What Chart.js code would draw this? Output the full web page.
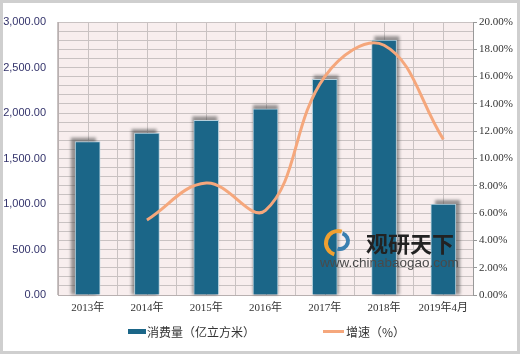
<!DOCTYPE html>
<html>
<head>
<meta charset="utf-8">
<script src="https://cdn.jsdelivr.net/npm/chart.js@4/dist/chart.umd.min.js"></script>
<style>
  html, body { margin: 0; padding: 0; background: #fff; }
  #wrap { width: 520px; height: 354px; }
</style>
</head>
<body>
<div id="wrap"><canvas id="chart" width="520" height="354"></canvas></div>
<script>
// 数据
const categories = ['2013年', '2014年', '2015年', '2016年', '2017年', '2018年', '2019年4月'];
const consumption = [1685, 1780, 1920, 2045, 2370, 2800, 1000];
const growth = [null, 5.5, 8.2, 6.2, 16.0, 18.3, 11.4];
const seriesNames = ['消费量（亿立方米）', '增速（%）'];
const barColor = '#1b6688';
const lineColor = '#f5a77c';

// 背景、网格中线、柱阴影、外框、图例、水印
const decor = {
    id: 'decor',
    beforeDraw(chart) {
        const { ctx, chartArea: a } = chart;
        ctx.save();
        ctx.fillStyle = '#f8eeee';
        ctx.fillRect(a.left, a.top, a.right - a.left, a.bottom - a.top);
        ctx.restore();
    },
    beforeDatasetsDraw(chart) {
        const { ctx, chartArea: a, scales } = chart;
        ctx.save();
        ctx.strokeStyle = '#c9c2c2';
        ctx.lineWidth = 1;
        categories.forEach((c, i) => {
            const x = Math.round(scales.x.getPixelForValue(i)) + 0.5;
            ctx.beginPath();
            ctx.moveTo(x, a.top);
            ctx.lineTo(x, a.bottom);
            ctx.stroke();
        });
        // 柱子的阴影，随位置向两侧偏
        const mid = (a.left + a.right) / 2;
        const half = (a.right - a.left) / 2;
        ctx.fillStyle = 'rgba(70,70,70,0.55)';
        ctx.filter = 'blur(1.5px)';
        chart.getDatasetMeta(0).data.forEach(bar => {
            const dx = (bar.x - mid) / half * 5;
            const w = bar.width;
            ctx.fillRect(bar.x - w / 2 + dx, bar.y - 4, w, bar.base - bar.y + 4);
        });
        ctx.restore();
    },
    afterDraw(chart) {
        const ctx = chart.ctx;
        ctx.save();
        // 水印
        ctx.lineWidth = 4;
        ctx.strokeStyle = '#f0a030';
        ctx.beginPath();
        ctx.arc(338, 243, 12, Math.PI * 0.6, Math.PI * 1.6);
        ctx.stroke();
        ctx.strokeStyle = '#3a7fb0';
        ctx.beginPath();
        ctx.arc(340, 241, 8, Math.PI * 1.6, Math.PI * 2.6);
        ctx.stroke();
        ctx.fillStyle = '#222';
        ctx.font = 'bold 22px "Noto Sans CJK SC"';
        ctx.textBaseline = 'middle';
        ctx.fillText('观研天下', 366, 244);
        ctx.fillStyle = '#4a4a4a';
        ctx.font = '13.5px "Liberation Sans"';
        ctx.fillText('www.chinabaogao.com', 320, 263);

        // 图例
        ctx.font = '12px "Noto Sans CJK SC"';
        ctx.fillStyle = barColor;
        ctx.fillRect(128, 329, 18, 5);
        ctx.fillStyle = '#333';
        ctx.fillText(chart.data.datasets[0].label, 147, 332);
        ctx.strokeStyle = lineColor;
        ctx.lineWidth = 3;
        ctx.beginPath();
        ctx.moveTo(323, 331.5);
        ctx.lineTo(344, 331.5);
        ctx.stroke();
        ctx.fillText(chart.data.datasets[1].label, 346, 332);

        // 外框
        ctx.strokeStyle = '#cfcfcf';
        ctx.lineWidth = 3;
        ctx.strokeRect(1.5, 1.5, 517, 351);
        ctx.restore();
    }
};

new Chart(document.getElementById('chart'), {
    data: {
        labels: categories,
        datasets: [
            {
                type: 'bar',
                label: seriesNames[0],
                data: consumption,
                backgroundColor: barColor,
                borderColor: '#b6d0dc',
                borderWidth: 1,
                barThickness: 25,
                yAxisID: 'y',
                order: 2
            },
            {
                type: 'line',
                label: seriesNames[1],
                data: growth,
                borderColor: lineColor,
                borderWidth: 3,
                tension: 0.4,
                pointRadius: 0,
                fill: false,
                yAxisID: 'y1',
                order: 1
            }
        ]
    },
    options: {
        responsive: false,
        animation: false,
        layout: { padding: { top: 22, bottom: 34, left: 0, right: 0 } },
        plugins: {
            legend: { display: false },
            tooltip: { enabled: false }
        },
        scales: {
            x: {
                grid: { color: '#c9c2c2', offset: true, drawTicks: false },
                border: { color: '#b8b0b0' },
                ticks: {
                    color: '#333',
                    font: { family: '"Liberation Serif", "Noto Sans CJK SC"', size: 11 },
                    padding: 7,
                    maxRotation: 0
                },
                afterFit(scale) { scale.height = 25; }
            },
            y: {
                position: 'left',
                min: 0,
                max: 3000,
                grid: { color: '#c9c2c2', drawTicks: false },
                border: { color: '#b8b0b0' },
                ticks: {
                    stepSize: 100,
                    autoSkip: false,
                    color: '#33336b',
                    padding: 12,
                    font: { family: '"Liberation Sans"', size: 11 },
                    callback: v => v % 500 === 0 ? v.toLocaleString('en-US', { minimumFractionDigits: 2, maximumFractionDigits: 2 }) : ''
                },
                afterFit(scale) { scale.width = 58; }
            },
            y1: {
                position: 'right',
                min: 0,
                max: 20,
                grid: { drawOnChartArea: false, drawTicks: true, tickLength: 4, color: '#999' },
                border: { color: '#999' },
                ticks: {
                    stepSize: 2,
                    color: '#333',
                    padding: 2,
                    font: { family: '"Liberation Serif"', size: 11 },
                    callback: v => v.toFixed(2) + '%'
                },
                afterFit(scale) { scale.width = 47; }
            }
        }
    },
    plugins: [decor]
});
</script>
</body>
</html>
